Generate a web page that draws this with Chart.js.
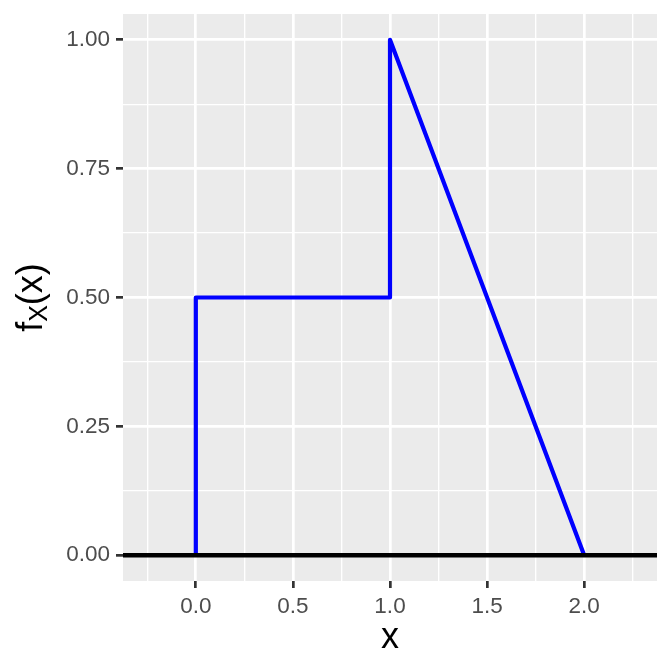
<!DOCTYPE html>
<html>
<head>
<meta charset="utf-8">
<script src="https://cdn.jsdelivr.net/npm/chart.js@4/dist/chart.umd.min.js"></script>
<style>
  html, body { margin: 0; padding: 0; background: #ffffff; }
  canvas { display: block; }
</style>
</head>
<body>
<canvas id="c" width="672" height="672"></canvas>
<script>
// ---- data ----
const densityX = [0, 0, 1, 1, 2];
const densityY = [0, 0.5, 0.5, 1, 0];
const baselineX = [-0.375, 2.375];
const baselineY = [0, 0];

const xMajorTicks = [0, 0.5, 1, 1.5, 2];
const xMajorLabels = ['0.0', '0.5', '1.0', '1.5', '2.0'];
const xMinorTicks = [-0.25, 0.25, 0.75, 1.25, 1.75, 2.25];
const yMajorTicks = [0, 0.25, 0.5, 0.75, 1];
const yMajorLabels = ['0.00', '0.25', '0.50', '0.75', '1.00'];
const yMinorTicks = [0.125, 0.375, 0.625, 0.875];

const xLimits = [-0.375, 2.375];
const yLimits = [-0.05, 1.05];

const xTitle = 'x';
const yTitleMain = 'f';
const yTitleSub = 'X';
const yTitleRest = '(x)';

// ---- helpers ----
const FONT = '"Liberation Sans", Arial, Helvetica, sans-serif';
function findIdx(arr, v) { return arr.findIndex(a => Math.abs(a - v) < 1e-9); }
function allTicks(major, minor) {
  return major.concat(minor).sort((a, b) => a - b).map(v => ({ value: v }));
}

const panelBg = {
  id: 'panelBg',
  beforeDraw(chart) {
    const { ctx, chartArea: a } = chart;
    ctx.save();
    ctx.fillStyle = '#EBEBEB';
    ctx.fillRect(a.left, a.top, a.right - a.left, a.bottom - a.top);
    ctx.restore();
  }
};

const yTitlePlugin = {
  id: 'yTitle',
  afterDraw(chart) {
    const { ctx, chartArea: a } = chart;
    const size = 36, subSize = 25;
    ctx.save();
    const cy = (a.top + a.bottom) / 2;
    ctx.translate(42, cy);
    ctx.rotate(-Math.PI / 2);
    ctx.fillStyle = '#000000';
    ctx.textBaseline = 'alphabetic';
    ctx.textAlign = 'left';
    ctx.font = size + 'px ' + FONT;
    const w1 = ctx.measureText(yTitleMain).width;
    const w3 = ctx.measureText(yTitleRest).width;
    ctx.font = subSize + 'px ' + FONT;
    const w2 = ctx.measureText(yTitleSub).width;
    let x = -(w1 + w2 + w3) / 2;
    ctx.font = size + 'px ' + FONT;
    ctx.fillText(yTitleMain, x, 0);
    x += w1;
    ctx.font = subSize + 'px ' + FONT;
    ctx.fillText(yTitleSub, x, 5);
    x += w2;
    ctx.font = size + 'px ' + FONT;
    ctx.fillText(yTitleRest, x, 0);
    ctx.restore();
  }
};

const toPts = (xs, ys) => xs.map((v, i) => ({ x: v, y: ys[i] }));

new Chart(document.getElementById('c'), {
  type: 'scatter',
  data: {
    datasets: [
      {
        data: toPts(baselineX, baselineY),
        showLine: true,
        borderColor: '#000000',
        borderWidth: 4.3,
        pointRadius: 0,
        order: 0
      },
      {
        data: toPts(densityX, densityY),
        showLine: true,
        borderColor: '#0000FF',
        borderWidth: 4.2,
        pointRadius: 0,
        borderJoinStyle: 'round',
        borderCapStyle: 'butt',
        order: 1
      }
    ]
  },
  options: {
    responsive: false,
    animation: false,
    layout: { padding: { left: 0, right: 15, top: 14, bottom: 0 } },
    plugins: { legend: { display: false }, tooltip: { enabled: false } },
    scales: {
      x: {
        type: 'linear',
        min: xLimits[0],
        max: xLimits[1],
        afterBuildTicks(scale) { scale.ticks = allTicks(xMajorTicks, xMinorTicks); },
        afterFit(scale) { scale.height = 91; scale.paddingLeft = 0; scale.paddingRight = 0; },
        border: { display: false },
        grid: {
          color: '#FFFFFF',
          lineWidth: ctx => (ctx.tick && findIdx(xMajorTicks, ctx.tick.value) >= 0) ? 2.7 : 1.35,
          tickColor: ctx => (ctx.tick && findIdx(xMajorTicks, ctx.tick.value) >= 0) ? '#333333' : 'rgba(0,0,0,0)',
          tickWidth: 2.7,
          tickLength: 7,
          drawTicks: true
        },
        ticks: {
          autoSkip: false,
          maxRotation: 0,
          padding: 5,
          color: '#4D4D4D',
          font: { family: FONT, size: 22.5 },
          callback: (v) => { const i = findIdx(xMajorTicks, v); return i >= 0 ? xMajorLabels[i] : ''; }
        },
        title: {
          display: true,
          text: xTitle,
          color: '#000000',
          font: { family: FONT, size: 36 },
          padding: { top: 0, bottom: 12.6 }
        }
      },
      y: {
        type: 'linear',
        min: yLimits[0],
        max: yLimits[1],
        afterBuildTicks(scale) { scale.ticks = allTicks(yMajorTicks, yMinorTicks); },
        afterFit(scale) { scale.width = 123; scale.paddingTop = 0; scale.paddingBottom = 0; },
        border: { display: false },
        grid: {
          color: '#FFFFFF',
          lineWidth: ctx => (ctx.tick && findIdx(yMajorTicks, ctx.tick.value) >= 0) ? 2.7 : 1.35,
          tickColor: ctx => (ctx.tick && findIdx(yMajorTicks, ctx.tick.value) >= 0) ? '#333333' : 'rgba(0,0,0,0)',
          tickWidth: 2.7,
          tickLength: 7,
          drawTicks: true
        },
        ticks: {
          autoSkip: false,
          padding: 6,
          color: '#4D4D4D',
          font: { family: FONT, size: 22.5 },
          callback: (v) => { const i = findIdx(yMajorTicks, v); return i >= 0 ? yMajorLabels[i] : ''; }
        }
      }
    }
  },
  plugins: [panelBg, yTitlePlugin]
});
</script>
</body>
</html>
